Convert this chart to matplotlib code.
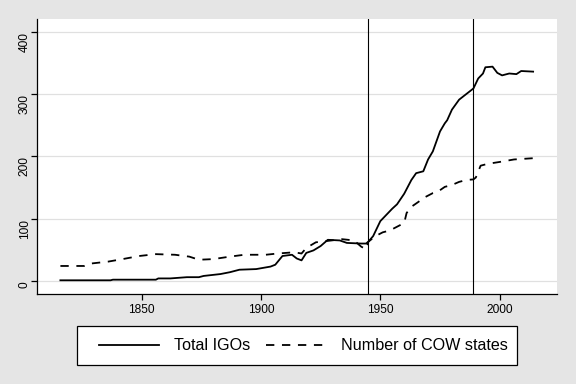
import matplotlib
matplotlib.use("Agg")
import matplotlib.pyplot as plt
from matplotlib.patches import Rectangle

plt.rcParams['font.family'] = ['Liberation Sans', 'DejaVu Sans']
plt.rcParams['lines.scale_dashes'] = False

# Total IGOs
igo_years = [1816, 1837, 1838, 1856, 1857, 1862, 1869, 1874, 1876, 1883, 1887, 1891,
             1898, 1904, 1906, 1909, 1913, 1915, 1917, 1919, 1922, 1925, 1928, 1933,
             1936, 1942, 1944, 1945, 1947, 1949, 1950, 1952, 1955, 1957, 1960, 1963,
             1965, 1968, 1970, 1972, 1975, 1977, 1978, 1980, 1983, 1986, 1989, 1991,
             1993, 1994, 1997, 1999, 2001, 2004, 2007, 2009, 2014]
igo_values = [1, 1, 2, 2, 4, 4, 6, 6, 8, 11, 14, 18,
              19, 23, 26, 40, 42, 36, 33, 45, 49, 56, 66, 65,
              61, 60, 60, 63, 72, 88, 96, 104, 116, 123, 140, 162,
              173, 176, 195, 208, 240, 253, 258, 275, 291, 300, 309, 325,
              333, 343, 344, 334, 330, 333, 332, 337, 336]

# Number of COW states
cow_years = [1816, 1826, 1829, 1836, 1842, 1849, 1856, 1864, 1870, 1874, 1880, 1887,
             1893, 1902, 1907, 1914, 1917, 1919, 1923, 1934, 1939, 1942, 1944, 1945,
             1946, 1948, 1951, 1954, 1957, 1960, 1961, 1963, 1966, 1968, 1972, 1974,
             1977, 1980, 1983, 1986, 1989, 1990, 1992, 1995, 2000, 2006, 2014]
cow_values = [24, 24, 28, 31, 35, 40, 43, 42, 39, 34, 35, 39,
              42, 42, 44, 46, 44, 53, 62, 67, 65, 55, 51, 63,
              66, 72, 78, 81, 87, 93, 109, 119, 127, 133, 141, 143,
              151, 154, 159, 162, 163, 166, 185, 188, 191, 195, 197]

event_years = [1945, 1989]
y_ticks = [0, 100, 200, 300, 400]
x_ticks = [1850, 1900, 1950, 2000]
labels = ["Total IGOs", "Number of COW states"]

bg = '#e5e5e5'
fig = plt.figure(figsize=(5.76, 3.84), dpi=100, facecolor=bg)
ax = fig.add_axes([37/576, 1-294/384, (557-37)/576, (294-19)/384])
ax.set_facecolor('white')

ax.plot(igo_years, igo_values, color='black', lw=1.3, label=labels[0])
ax.plot(cow_years, cow_values, color='black', lw=1.3, dashes=(6, 5.5), label=labels[1])

for yr in event_years:
    ax.axvline(yr, color='black', lw=0.8)

ax.set_xlim(1806.2, 2024)
ax.set_ylim(-21, 420.5)
ax.set_xticks(x_ticks)
ax.set_yticks(y_ticks)
ax.set_yticklabels([str(v) for v in y_ticks], rotation=90, va='top')
ax.yaxis.grid(True, color='#e0e0e0', lw=0.9)
ax.set_axisbelow(True)
for s in ['top', 'right']:
    ax.spines[s].set_visible(False)
for s in ['left', 'bottom']:
    ax.spines[s].set_linewidth(0.9)
ax.tick_params(axis='both', length=4.1, width=0.9, labelsize=8.6)
ax.tick_params(axis='x', pad=3)
ax.tick_params(axis='y', pad=0.5)

# legend frame
fig.patches.append(Rectangle((76.7/576, (384-365.3)/384), (517.3-76.7)/576, 39/384,
                             transform=fig.transFigure, facecolor='white',
                             edgecolor='black', lw=0.9, zorder=0))
leg = fig.legend(loc='center left', ncol=2,
                 bbox_to_anchor=(99.3/576, (384-345.8)/384),
                 frameon=False, fontsize=11.6,
                 handlelength=3.69, handletextpad=0.97, columnspacing=0.93,
                 borderpad=0, borderaxespad=0)

fig.savefig('out.png', dpi=100, facecolor=bg)
